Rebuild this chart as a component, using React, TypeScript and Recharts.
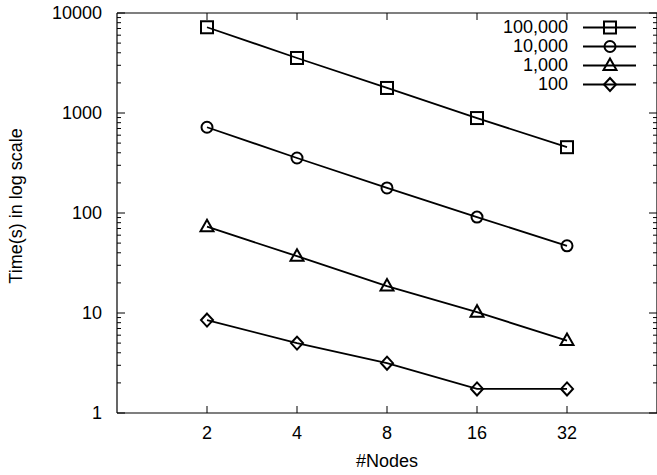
import React from 'react';
import { LineChart, Line, XAxis, YAxis, Legend } from 'recharts';

// values
const nodes = [2, 4, 8, 16, 32];
const series100000 = [7200, 3550, 1780, 890, 455];
const series10000 = [720, 355, 178, 91, 47];
const series1000 = [73, 37, 18.6, 10.2, 5.3];
const series100 = [8.5, 5.0, 3.15, 1.74, 1.74];

const seriesNames = ['100,000', '10,000', '1,000', '100'];
const seriesKeys = ['s100000', 's10000', 's1000', 's100'];
const seriesShapes = ['square', 'circle', 'triangle', 'diamond'];

const yMajorTicks = [1, 10, 100, 1000, 10000];
const yMinorSteps = [2, 3, 4, 5, 6, 7, 8, 9];
const yTicks = [
  ...yMajorTicks,
  ...yMajorTicks.slice(0, -1).flatMap((d) => yMinorSteps.map((m) => d * m)),
];

const data = nodes.map((n, i) => ({
  nodes: n,
  s100000: series100000[i],
  s10000: series10000[i],
  s1000: series1000[i],
  s100: series100[i],
}));

const FONT = '"Liberation Sans", Arial, Helvetica, sans-serif';
const textStyle = { fontFamily: FONT, fontSize: 18, fill: '#000' };

const Marker = ({ shape, cx, cy }: { shape: string; cx: number; cy: number }) => {
  const common = { fill: 'none', stroke: '#000', strokeWidth: 2 };
  if (shape === 'square') return <rect x={cx - 6} y={cy - 6} width={12} height={12} {...common} />;
  if (shape === 'circle') return <circle cx={cx} cy={cy} r={5.5} {...common} />;
  if (shape === 'triangle')
    return <polygon points={`${cx},${cy - 7} ${cx - 6.5},${cy + 4.5} ${cx + 6.5},${cy + 4.5}`} {...common} />;
  return <polygon points={`${cx},${cy - 6.5} ${cx + 6},${cy} ${cx},${cy + 6.5} ${cx - 6},${cy}`} {...common} />;
};

const isMajor = (v: number) => yMajorTicks.includes(v);

const LeftTick = ({ x, y, payload }: any) => (
  <g>
    <line x1={x} x2={x + (isMajor(payload.value) ? 8 : 4)} y1={y} y2={y} stroke="#000" />
    {isMajor(payload.value) && (
      <text x={x - 15} y={y} dy="0.36em" textAnchor="end" style={textStyle}>
        {payload.value}
      </text>
    )}
  </g>
);

const RightTick = ({ x, y, payload }: any) => (
  <line x1={x} x2={x - (isMajor(payload.value) ? 8 : 4)} y1={y} y2={y} stroke="#000" />
);

const BottomTick = ({ x, y, payload }: any) => (
  <g>
    <line x1={x} x2={x} y1={y} y2={y - 7} stroke="#000" />
    <text x={x} y={y + 26} textAnchor="middle" style={textStyle}>
      {payload.value}
    </text>
  </g>
);

const TopTick = ({ x, y }: any) => <line x1={x} x2={x} y1={y} y2={y + 7} stroke="#000" />;

const LegendBox = () => (
  <div style={{ fontFamily: FONT, fontSize: 18, color: '#000' }}>
    {seriesNames.map((name, i) => (
      <div key={name} style={{ display: 'flex', height: 19, lineHeight: '19px' }}>
        <span style={{ flex: 1, textAlign: 'right', paddingRight: 7 }}>{name}</span>
        <svg width={65} height={19}>
          <line x1={8} x2={61} y1={9.5} y2={9.5} stroke="#000" strokeWidth={1.8} />
          <Marker shape={seriesShapes[i]} cx={35} cy={9.5} />
        </svg>
      </div>
    ))}
  </div>
);

export default function App() {
  return (
    <div style={{ position: 'absolute', left: 0, top: 0 }}>
      <LineChart width={657} height={475} data={data} margin={{ top: 12, right: -1, bottom: 0, left: 0 }}>
        <XAxis
          xAxisId="b"
          dataKey="nodes"
          type="number"
          scale="log"
          domain={[1, 64]}
          allowDataOverflow
          ticks={nodes}
          interval={0}
          height={62}
          tickSize={0}
          tickMargin={0}
          tickLine={false}
          tick={<BottomTick />}
          axisLine={{ stroke: '#000', strokeWidth: 1.2 }}
          label={{ value: '#Nodes', position: 'insideBottom', offset: 8, style: textStyle }}
        />
        <XAxis
          xAxisId="t"
          orientation="top"
          dataKey="nodes"
          type="number"
          scale="log"
          domain={[1, 64]}
          allowDataOverflow
          ticks={nodes}
          interval={0}
          height={1}
          tickSize={0}
          tickMargin={0}
          tickLine={false}
          tick={<TopTick />}
          axisLine={{ stroke: '#000', strokeWidth: 1.2 }}
        />
        <YAxis
          yAxisId="l"
          type="number"
          scale="log"
          domain={[1, 10000]}
          allowDataOverflow
          ticks={yTicks}
          interval={0}
          width={117}
          tickSize={0}
          tickMargin={0}
          tickLine={false}
          tick={<LeftTick />}
          axisLine={{ stroke: '#000', strokeWidth: 1.2 }}
          label={{
            content: (p: any) => {
              const vb = p.viewBox;
              const cx = 22;
              const cy = vb.y + vb.height / 2 - 7;
              return (
                <text x={cx} y={cy} transform={`rotate(-90 ${cx} ${cy})`} textAnchor="middle" style={textStyle}>
                  Time(s) in log scale
                </text>
              );
            },
          }}
        />
        <YAxis
          yAxisId="r"
          orientation="right"
          type="number"
          scale="log"
          domain={[1, 10000]}
          allowDataOverflow
          ticks={yTicks}
          interval={0}
          width={1}
          tickSize={0}
          tickMargin={0}
          tickLine={false}
          tick={<RightTick />}
          axisLine={{ stroke: '#000', strokeWidth: 1.2 }}
        />
        {seriesKeys.map((key, i) => (
          <Line
            key={key}
            xAxisId="b"
            yAxisId="l"
            type="linear"
            dataKey={key}
            name={seriesNames[i]}
            stroke="#000"
            strokeWidth={1.8}
            isAnimationActive={false}
            dot={(p: any) => <Marker key={`${key}-${p.index}`} shape={seriesShapes[i]} cx={p.cx} cy={p.cy} />}
          />
        ))}
        <Legend
          layout="vertical"
          align="center"
          verticalAlign="middle"
          content={<LegendBox />}
          wrapperStyle={{ position: 'absolute', left: 436, top: 18, width: 204 }}
        />
      </LineChart>
    </div>
  );
}
